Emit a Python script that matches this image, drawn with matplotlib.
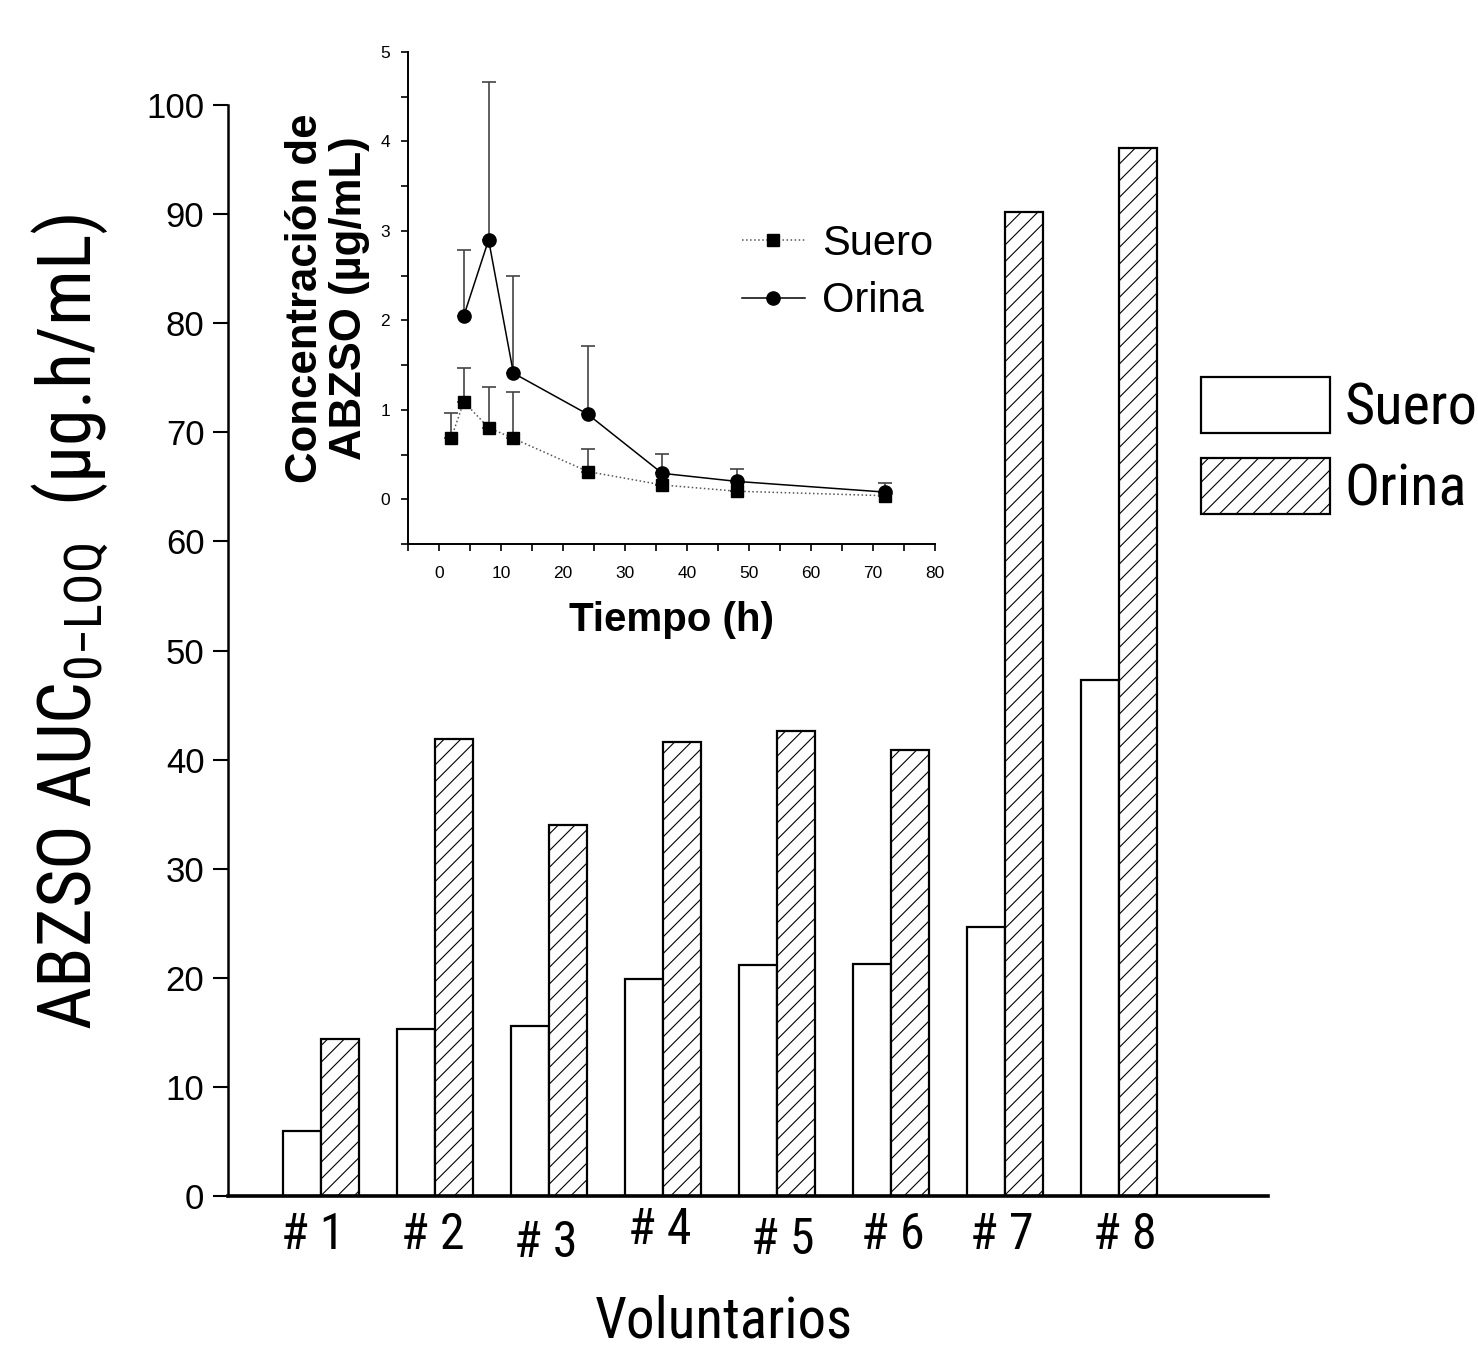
import numpy as np
import matplotlib
matplotlib.use("Agg")
import matplotlib.pyplot as plt
from matplotlib import font_manager
from matplotlib.legend_handler import HandlerLine2D

# main chart: AUC per volunteer
voluntarios = ["# 1", "# 2", "# 3", "# 4", "# 5", "# 6", "# 7", "# 8"]
suero_auc = [6.0, 15.3, 15.6, 19.9, 21.2, 21.3, 24.7, 47.3]
orina_auc = [14.4, 41.9, 34.0, 41.6, 42.6, 40.9, 90.2, 96.1]

# inset: concentration over time
t_suero = [2, 4, 8, 12, 24, 36, 48, 72]
c_suero = [0.69, 1.09, 0.80, 0.68, 0.31, 0.16, 0.09, 0.04]
c_suero_sup = [0.96, 1.47, 1.26, 1.20, 0.56, 0.16, 0.09, 0.04]
t_orina = [4, 8, 12, 24, 36, 48, 72]
c_orina = [2.05, 2.90, 1.41, 0.95, 0.29, 0.20, 0.08]
c_orina_sup = [2.79, 4.67, 2.50, 1.71, 0.51, 0.34, 0.18]

# narrow font if there is one, otherwise plain Liberation Sans a bit smaller
names = {f.name for f in font_manager.fontManager.ttflist}
narrow = None
for cand in ["Liberation Sans Narrow", "Arial Narrow", "Roboto Condensed"]:
    if cand in names:
        narrow = cand
        break
k = 1.0
if narrow is None:
    narrow = "Liberation Sans"
    k = 0.82

plt.rcParams["font.family"] = ["Liberation Sans", "DejaVu Sans"]
plt.rcParams["mathtext.fontset"] = "custom"
plt.rcParams["mathtext.rm"] = narrow
plt.rcParams["mathtext.it"] = narrow
plt.rcParams["hatch.linewidth"] = 0.8

fig = plt.figure(figsize=(14.78, 13.53), dpi=100)
ax = fig.add_axes([228/1478, 1-1196/1353, 1040/1478, 1091/1353])

x = np.arange(1, len(voluntarios) + 1)
w = 0.333
b1 = ax.bar(x - w/2, suero_auc, w, color="white", edgecolor="black", lw=1.6, label="Suero")
b2 = ax.bar(x + w/2, orina_auc, w, color="white", edgecolor="black", lw=1.6, hatch="//", label="Orina")

ax.set_xlim(0.184, 9.31)
ax.set_ylim(0, 100)
ax.set_yticks(range(0, 101, 10))
ax.spines["top"].set_visible(False)
ax.spines["right"].set_visible(False)
ax.spines["left"].set_linewidth(1.8)
ax.spines["bottom"].set_linewidth(2.6)
ax.tick_params(axis="y", direction="out", length=11, width=1.5, labelsize=25, pad=6)
ax.set_xticks([])

# tick labels sit a bit unevenly in the original
dx = [-8, -2, -3, -3, 6, 2, -3, 6]
dy = [0, 0, -8, 5, -5, 0, 0, 0]
for xi, lab, ox, oy in zip(x, voluntarios, dx, dy):
    ax.annotate(lab, xy=(xi, 0), xycoords=("data", "axes fraction"),
                xytext=(ox*0.72, -11 + oy*0.72), textcoords="offset points",
                ha="center", va="top", fontsize=36*k, family=narrow)

fig.text(724/1478, 1-1322/1353, "Voluntarios", ha="center", va="center",
         fontsize=41*k, family=narrow)
fig.text(70/1478, 1-622/1353, r"ABZSO AUC$_{\mathrm{0{-}LOQ}}$  (µg.h/mL)",
         rotation=90, ha="center", va="center", fontsize=53.5*k, family=narrow)

fig.legend([b1, b2], ["Suero", "Orina"], loc="upper left",
           bbox_to_anchor=(1201/1478, 1-377/1353), bbox_transform=fig.transFigure,
           frameon=False, prop={"family": narrow, "size": 42*k},
           handlelength=2.21, handleheight=1.1, handletextpad=0.25,
           labelspacing=0.36, borderpad=0, borderaxespad=0)

# inset
ins = fig.add_axes([408/1478, 1-544/1353, 527/1478, 492/1353])
ins.set_facecolor("none")
ins.errorbar(t_suero, c_suero, yerr=[np.zeros(len(c_suero)), np.array(c_suero_sup) - np.array(c_suero)],
             fmt="none", ecolor="#444444", elinewidth=1.2, capsize=5, capthick=1.2)
ins.errorbar(t_orina, c_orina, yerr=[np.zeros(len(c_orina)), np.array(c_orina_sup) - np.array(c_orina)],
             fmt="none", ecolor="#444444", elinewidth=1.2, capsize=5, capthick=1.2)
l1, = ins.plot(t_suero, c_suero, ls=":", color="#555555", lw=1.1, marker="s",
               ms=8, mfc="black", mec="black", label="Suero")
l2, = ins.plot(t_orina, c_orina, ls="-", color="black", lw=1.1, marker="o",
               ms=9.5, mfc="black", mec="black", label="Orina")
ins.set_xlim(-5, 80)
ins.set_ylim(-0.5, 5)
ins.set_xticks(range(0, 81, 10))
ins.set_xticks(range(-5, 81, 5), minor=True)
ins.set_yticks(range(0, 6))
ins.set_yticks(np.arange(-0.5, 5.01, 0.5), minor=True)
ins.spines["top"].set_visible(False)
ins.spines["right"].set_visible(False)
for s in ["left", "bottom"]:
    ins.spines[s].set_linewidth(1.4)
ins.tick_params(which="both", direction="out", length=5, width=1.2, labelsize=12.5)
ins.tick_params(axis="x", which="major", pad=11)
ins.tick_params(axis="y", which="major", pad=8)
ins.set_xlabel("Tiempo (h)", fontsize=29, fontweight="bold", labelpad=14)
ins.set_ylabel("Concentración de\nABZSO (µg/mL)", fontsize=31.5, fontweight="bold",
               labelpad=7, linespacing=1.12)


class RightMarker(HandlerLine2D):
    def get_xdata(self, legend, xdescent, ydescent, width, height, fontsize):
        xdata, _ = super().get_xdata(legend, xdescent, ydescent, width, height, fontsize)
        return xdata, [-xdescent + 0.68*width]


ins.legend([l1, l2], ["Suero", "Orina"], loc="upper left",
           bbox_to_anchor=(742/1478, 1-224/1353), bbox_transform=fig.transFigure,
           frameon=False, fontsize=30, handlelength=1.5, handletextpad=0.43,
           labelspacing=0.42, borderpad=0, borderaxespad=0, numpoints=1,
           handler_map={l1: RightMarker(), l2: RightMarker()})

fig.savefig("out.png", dpi=100)
